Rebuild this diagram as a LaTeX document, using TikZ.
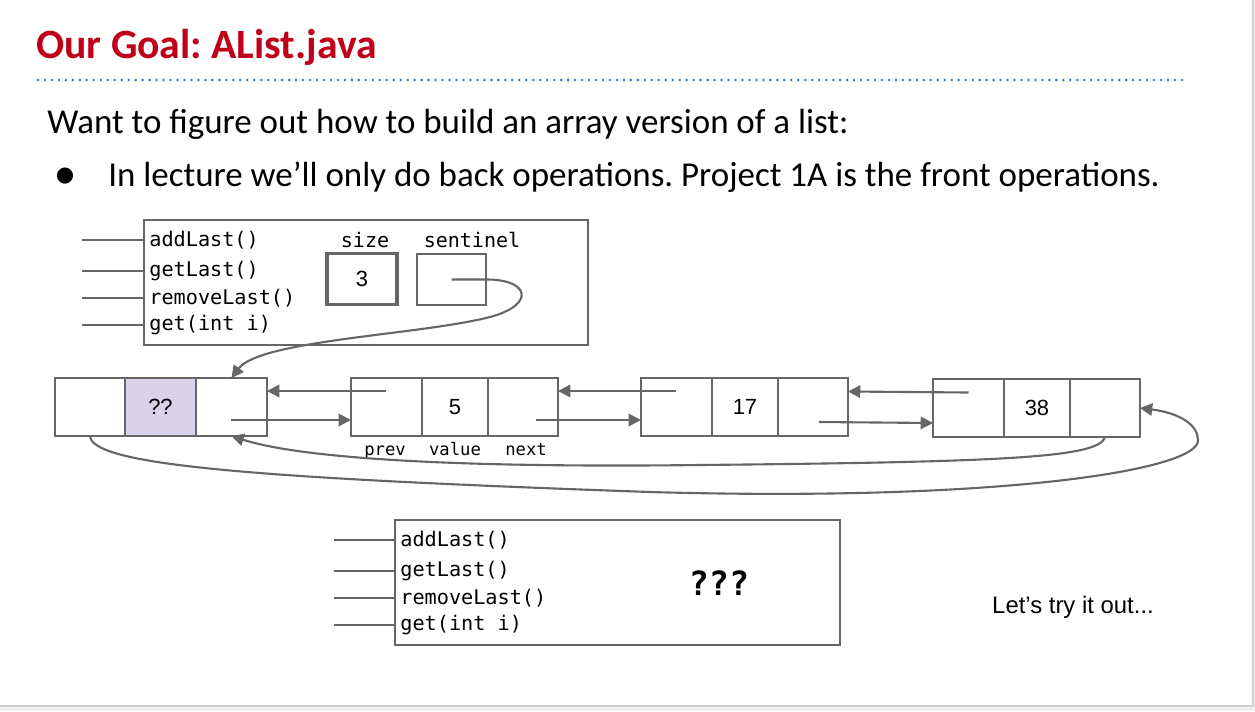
\documentclass[tikz,border=0pt]{standalone}
\usepackage{fontspec}
\setmainfont{Carlito}
\newfontfamily\arialf{Liberation Sans}
\newfontfamily\monof{DejaVu Sans Mono}
\newfontfamily\symf{DejaVu Sans}
\usepackage{tikz}
\usetikzlibrary{positioning,arrows.meta}
\frenchspacing
\definecolor{linegray}{HTML}{666666}
\definecolor{titlered}{HTML}{C0001A}
\definecolor{lavender}{HTML}{D9D2E9}
\definecolor{dotblue}{HTML}{2F7BC4}
\definecolor{edgegray}{HTML}{D0D0D0}
\definecolor{bggray}{HTML}{EFEFEF}
\tikzset{
  objbox/.style={draw=linegray, line width=1.2pt, minimum height=2.5cm, inner sep=0pt},
  fieldbox/.style={draw=linegray, minimum width=1.38cm, minimum height=1.03cm, inner sep=0pt,
    font=\arialf\fontsize{12.5}{14}\selectfont},
  cell/.style={draw=linegray, line width=1.2pt, minimum height=1.16cm, inner sep=0pt, outer sep=0pt,
    font=\arialf\fontsize{12.5}{14}\selectfont},
  meth/.style={anchor=west, inner xsep=0.1cm, inner ysep=0pt, font=\monof\fontsize{11.5}{13}\selectfont},
  lbl/.style={inner sep=0pt, font=\monof\fontsize{11.4}{13}\selectfont},
  smalllbl/.style={anchor=base, inner sep=0pt, font=\monof\fontsize{9.8}{11}\selectfont},
  stub/.style={draw=linegray, line width=1.2pt},
  ptr/.style={draw=linegray, line width=1.2pt, -{Triangle[length=7pt,width=7pt]}}
}
\begin{document}
\begin{tikzpicture}[x=0.02cm, y=-0.02cm]
  \useasboundingbox (0,0) rectangle (1255,711);
  \fill[bggray] (0,0) rectangle (1255,711);
  \filldraw[fill=white, draw=edgegray, line width=0.8pt] (-2,-2) rectangle (1253,706);

  % heading
  \node (title) [anchor=base west, inner sep=0pt, text=titlered,
        font=\fontsize{23.7}{28}\selectfont\bfseries] at (36,58) {Our Goal: AList.java};
  \draw[dotblue, line width=1.6pt, line cap=round, dash pattern=on 0pt off 3.97pt] (38,80) -- (1185,80);
  \node (want) [anchor=base west, inner sep=0pt, font=\fontsize{19.9}{24}\selectfont] at (47,133)
        {Want to figure out how to build an array version of a list:};
  \node (dot) [inner sep=0pt, font=\symf\fontsize{12}{14}\selectfont] at (65,176) {●};
  \node (lecture) [anchor=base west, inner sep=0pt, font=\fontsize{19.9}{24}\selectfont] at (108,186)
        {In lecture we’ll only do back operations. Project 1A is the front operations.};

  % the SLList object
  \node (sllist) [objbox, minimum width=8.88cm] at (366,282.5) {};
  \node (ma1) [meth] at (144,240) {addLast()};
  \node (ma2) [meth] at (144,271) {getLast()};
  \node (ma3) [meth] at (144,298) {removeLast()};
  \node (ma4) [meth] at (144,325) {get(int i)};
  \foreach \m in {ma1,ma2,ma3,ma4}
    \draw[stub] (\m.west) -- +(-62,0);
  \node (sizebox) [fieldbox, line width=1.9pt, minimum width=1.4cm] at (362,279) {3};
  \node (sentbox) [fieldbox, line width=1.2pt] at (451.5,279.5) {};
  \node (sizelbl) [lbl] at (365,240) {size};
  \node (sentlbl) [lbl] at (472,240) {sentinel};

  % sentinel node
  \node (s1) [cell, minimum width=1.4cm, anchor=west] at (55,407) {};
  \node (s2) [cell, minimum width=1.42cm, fill=lavender, right=0pt of s1] {??};
  \node (s3) [cell, minimum width=1.42cm, right=0pt of s2] {};

  % item nodes
  \node (n5p) [cell, minimum width=1.42cm, anchor=west] at (351,407) {};
  \node (n5v) [cell, minimum width=1.32cm, right=0pt of n5p] {5};
  \node (n5n) [cell, minimum width=1.4cm, right=0pt of n5v] {};
  \node (n17p) [cell, minimum width=1.42cm, anchor=west] at (641,407) {};
  \node (n17v) [cell, minimum width=1.32cm, right=0pt of n17p] {17};
  \node (n17n) [cell, minimum width=1.4cm, right=0pt of n17v] {};
  \node (n38p) [cell, minimum width=1.42cm, anchor=west] at (933,408) {};
  \node (n38v) [cell, minimum width=1.32cm, right=0pt of n38p] {38};
  \node (n38n) [cell, minimum width=1.4cm, right=0pt of n38v] {};

  \node (prevlbl) [smalllbl] at (385,455) {prev};
  \node (vallbl) [smalllbl] at (455,455) {value};
  \node (nextlbl) [smalllbl] at (526,455) {next};

  % links
  \draw[ptr] (sentbox.center) -- (488,279.5) .. controls (530,280) and (535,305) .. (490,317)
             .. controls (420,335) and (260,340) .. (s3.north);
  \draw[ptr] ([yshift=0.32cm]n5p.center) -- ([yshift=0.32cm]s3.east);
  \draw[ptr] ([yshift=-0.26cm]s3.center) -- ([yshift=-0.26cm]n5p.west);
  \draw[ptr] ([yshift=0.32cm]n17p.center) -- ([yshift=0.32cm]n5n.east);
  \draw[ptr] ([xshift=0.26cm,yshift=-0.26cm]n5n.center) -- ([yshift=-0.26cm]n17p.west);
  \draw[ptr] ([yshift=0.31cm]n38p.center) -- ([yshift=0.31cm]n17n.east);
  \draw[ptr] ([xshift=0.12cm,yshift=-0.3cm]n17n.center) -- ([yshift=-0.3cm]n38p.west);
  \draw[ptr] (n38n.south) .. controls (1100,458) and (1000,462) .. (700,465)
             .. controls (450,468) and (300,458) .. (s3.south);
  \draw[ptr] (s1.south) .. controls (92,465) and (250,478) .. (650,492)
             .. controls (1000,502) and (1200,470) .. (1198,440)
             .. controls (1198,425) and (1180,413) .. (n38n.east);

  % the AList object
  \node (alist) [objbox, minimum width=8.9cm] at (617.5,582.5) {};
  \node (mb1) [meth] at (395,540) {addLast()};
  \node (mb2) [meth] at (395,571) {getLast()};
  \node (mb3) [meth] at (395,598) {removeLast()};
  \node (mb4) [meth] at (395,625) {get(int i)};
  \foreach \m in {mb1,mb2,mb3,mb4}
    \draw[stub] (\m.west) -- +(-61,0);
  \node (unknown) [inner sep=0pt, font=\monof\bfseries\fontsize{19}{22}\selectfont] at (719,583) {???};

  \node (tryit) [inner sep=0pt, font=\arialf\fontsize{13.6}{16}\selectfont] at (1073,607) {Let’s try it out...};
\end{tikzpicture}
\end{document}
